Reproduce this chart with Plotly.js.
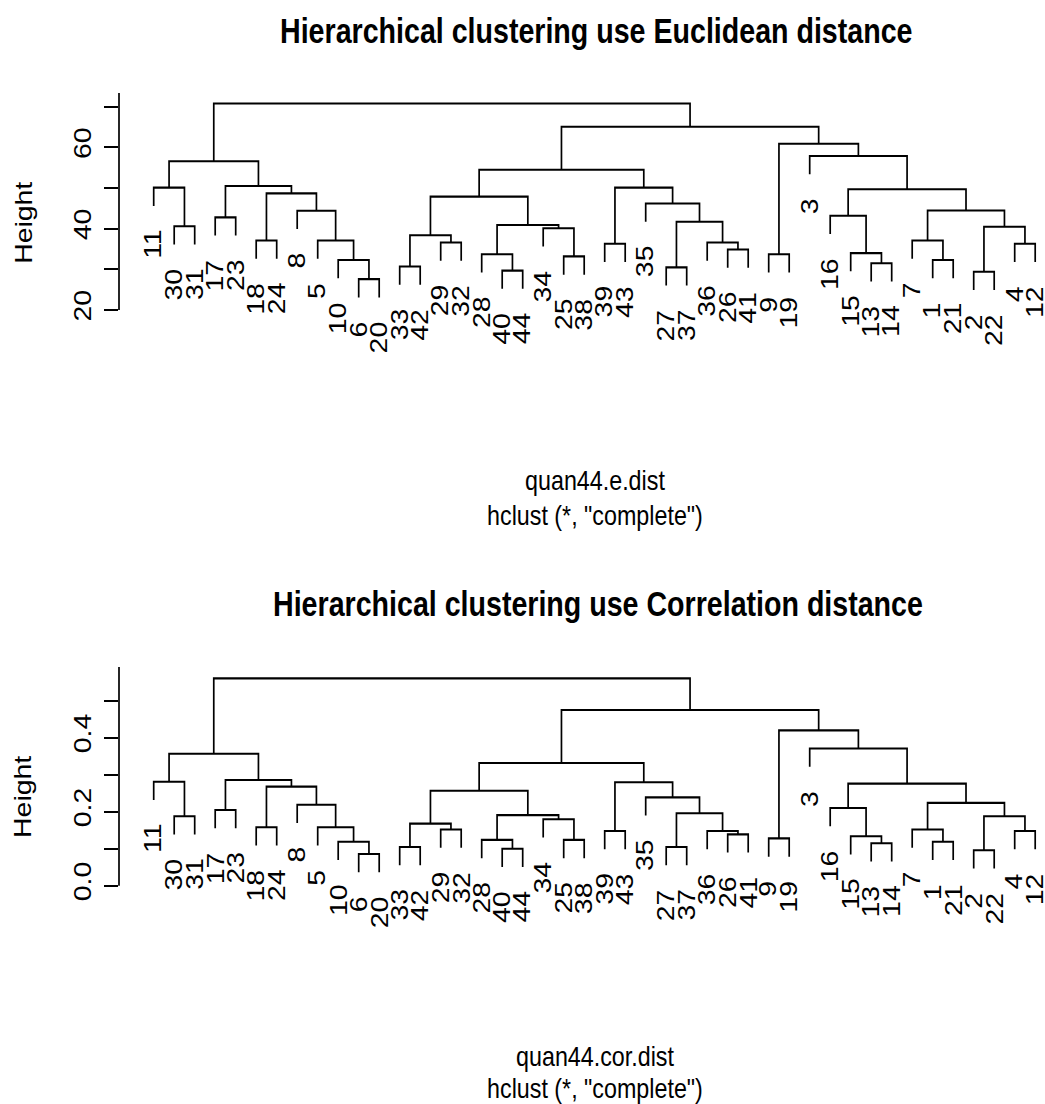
<!DOCTYPE html>
<html><head><meta charset="utf-8">
<script src="https://cdn.plot.ly/plotly-3.0.1.min.js"></script>
<style>
html,body{margin:0;padding:0;background:#fff;width:1045px;height:1104px;overflow:hidden;}
#plot{width:1045px;height:905px;transform-origin:0 0;}
</style>
</head><body><div id="plot"></div>
<script>
// ---- data (R hclust style: negative = observation, positive = earlier merge row) ----
const mergeLeft  = [-30, -11, -17, -18, -6, -10, -5, -8, 4, 3, 2, -33, -29, 12, -40, -28, -25, -34, 16, 14, -39, -27, -26, -36, 22, -35, 21, 20, -9, -13, -15, -16, -1, -7, -2, -4, 35, 34, 32, -3, 29, 28, 11];
const mergeRight = [-31, 1, -23, -24, -20, 5, 6, 7, 8, 9, 10, -42, -32, 13, -44, 15, -38, 17, 18, 19, -43, -37, -41, 23, 24, 25, 26, 27, -19, -14, 30, 31, -21, 33, -22, -12, 36, 37, 38, 39, 40, 41, 42];
const heightEuclid = [40.6, 50.1, 42.8, 37.1, 27.6, 32.3, 37.1, 44.4, 48.7, 50.5, 56.6, 30.7, 36.6, 38.4, 29.7, 33.7, 33.2, 40.1, 40.9, 47.9, 36.3, 30.5, 34.9, 36.6, 41.7, 46.2, 50.1, 54.5, 33.7, 31.5, 34.0, 43.2, 32.3, 37.1, 29.4, 36.3, 40.5, 44.5, 49.7, 57.9, 60.9, 65.1, 70.8];
const heightCor = [0.188, 0.281, 0.205, 0.158, 0.086, 0.119, 0.158, 0.219, 0.268, 0.286, 0.357, 0.105, 0.152, 0.168, 0.100, 0.124, 0.124, 0.180, 0.191, 0.257, 0.148, 0.105, 0.139, 0.148, 0.196, 0.239, 0.280, 0.332, 0.128, 0.115, 0.134, 0.210, 0.119, 0.152, 0.096, 0.148, 0.188, 0.224, 0.276, 0.371, 0.420, 0.475, 0.5605];
const obsLabels = Array.from({length: 44}, (_, i) => String(i + 1));
const yTickValsE = [20, 30, 40, 50, 60, 70];
const yTickTextE = ['20', '', '40', '', '60', ''];
const yTickValsC = [0, 0.1, 0.2, 0.3, 0.4, 0.5];
const yTickTextC = ['0.0', '', '0.2', '', '0.4', ''];
const titleE = 'Hierarchical clustering use Euclidean distance';
const titleC = 'Hierarchical clustering use Correlation distance';
const xlabE = 'quan44.e.dist';
const xlabC = 'quan44.cor.dist';
const subText = 'hclust (*, "complete")';

// ---- geometry / style ----
const S = 1.22;           // vertical stretch of the page image
const W = 1045, H = 1104; // screen size
const FONT = '"Liberation Sans", Arial, Helvetica, sans-serif';
const FS = 23.3, FT = 28.6;
const LW = 1.7;
const hangFrac = 0.104;
const xLeftPx = 119, leaf1Px = 153.7, leafStepPx = 20.5;

function py(screenY) { return 1 - screenY / H; }
function yRange(topPx, botPx, refPx, refVal, pxPerUnit) {
  return [refVal + (refPx - botPx) / pxPerUnit, refVal + (refPx - topPx) / pxPerUnit];
}

function order(row, out) {
  [mergeLeft[row - 1], mergeRight[row - 1]].forEach(c => {
    if (c < 0) out.push(-c); else order(c, out);
  });
  return out;
}
const leafOrder = order(mergeLeft.length, []);
const leafPos = {};
leafOrder.forEach((o, i) => leafPos[o] = i + 1);

function dendro(heights, xa, ya) {
  const hmax = Math.max(...heights), hmin = Math.min(...heights);
  const drop = hangFrac * (hmax - hmin);
  const xs = [], ys = [], pos = [], anns = [];
  for (let i = 0; i < heights.length; i++) {
    const h = heights[i];
    const kids = [mergeLeft[i], mergeRight[i]].map(c => {
      if (c < 0) {
        const x = leafPos[-c], y = h - drop;
        anns.push({xref: xa, yref: ya, x: x, y: y, text: obsLabels[-c - 1], showarrow: false,
          textangle: -90, xanchor: 'center', yanchor: 'top', yshift: -17.7,
          font: {family: FONT, size: FS, color: '#000'}});
        return [x, y];
      }
      return [pos[c - 1], heights[c - 1]];
    });
    xs.push(kids[0][0], kids[0][0], kids[1][0], kids[1][0], null);
    ys.push(kids[0][1], h, h, kids[1][1], null);
    pos.push((kids[0][0] + kids[1][0]) / 2);
  }
  return {trace: {x: xs, y: ys, xaxis: xa, yaxis: ya, type: 'scatter', mode: 'lines',
    line: {color: '#000', width: LW}, hoverinfo: 'skip', showlegend: false}, anns: anns};
}

const dTop = dendro(heightEuclid, 'x', 'y');
const dBot = dendro(heightCor, 'x2', 'y2');

const xr = [1 - (leaf1Px - xLeftPx) / leafStepPx, 1 + (W - leaf1Px) / leafStepPx];
const xDom = [xLeftPx / W, 1];
const topDom = [50, 460], botDom = [626, 1040];

function yaxisDef(dom, range, vals, text, anchor) {
  return {domain: [py(dom[1]), py(dom[0])], range: range, tickvals: vals, ticktext: text,
    ticks: 'outside', ticklen: 14, tickwidth: LW, tickcolor: '#000', showline: false,
    showgrid: false, zeroline: false, tickangle: -90, ticklabelstandoff: 4, anchor: anchor,
    tickfont: {family: FONT, size: FS, color: '#000'}, fixedrange: true};
}
function xaxisDef(anchor) {
  return {domain: xDom, range: xr, visible: false, anchor: anchor, fixedrange: true};
}

function txt(x, yScreen, text, size, bold, angle) {
  return {xref: 'paper', yref: 'paper', x: x / W, y: py(yScreen), text: bold ? '<b>' + text + '</b>' : text,
    showarrow: false, xanchor: 'center', yanchor: 'middle', textangle: angle || 0,
    font: {family: FONT, size: size, color: '#000'}};
}

const annotations = [].concat(dTop.anns, dBot.anns, [
  txt(596, 31, titleE, FT, true),
  txt(595, 481, xlabE, FS),
  txt(595, 515, subText, FS),
  txt(23.5, 223, 'Height', FS, false, -90),
  txt(598, 604, titleC, FT, true),
  txt(595, 1056, xlabC, FS),
  txt(595, 1088, subText, FS),
  txt(23.5, 797, 'Height', FS, false, -90)
]);

const layout = {
  width: W, height: H / S,
  margin: {l: 0, r: 0, t: 0, b: 0, pad: 0},
  paper_bgcolor: '#fff', plot_bgcolor: '#fff',
  showlegend: false,
  xaxis: xaxisDef('y'),
  yaxis: yaxisDef(topDom, yRange(topDom[0], topDom[1], 310, 20, 4.065), yTickValsE, yTickTextE, 'x'),
  xaxis2: xaxisDef('y2'),
  yaxis2: yaxisDef(botDom, yRange(botDom[0], botDom[1], 885.7, 0, 370), yTickValsC, yTickTextC, 'x2'),
  shapes: [
    {type: 'line', xref: 'paper', yref: 'y', x0: xLeftPx / W, x1: xLeftPx / W, y0: 20, y1: 73.4, line: {color: '#000', width: LW}},
    {type: 'line', xref: 'paper', yref: 'y2', x0: xLeftPx / W, x1: xLeftPx / W, y0: 0, y1: 0.591, line: {color: '#000', width: LW}}
  ],
  annotations: annotations
};

Plotly.newPlot('plot', [dTop.trace, dBot.trace], layout, {staticPlot: true, displayModeBar: false})
  .then(() => { document.getElementById('plot').style.transform = 'scaleY(' + S + ')'; });
</script>
</body></html>
